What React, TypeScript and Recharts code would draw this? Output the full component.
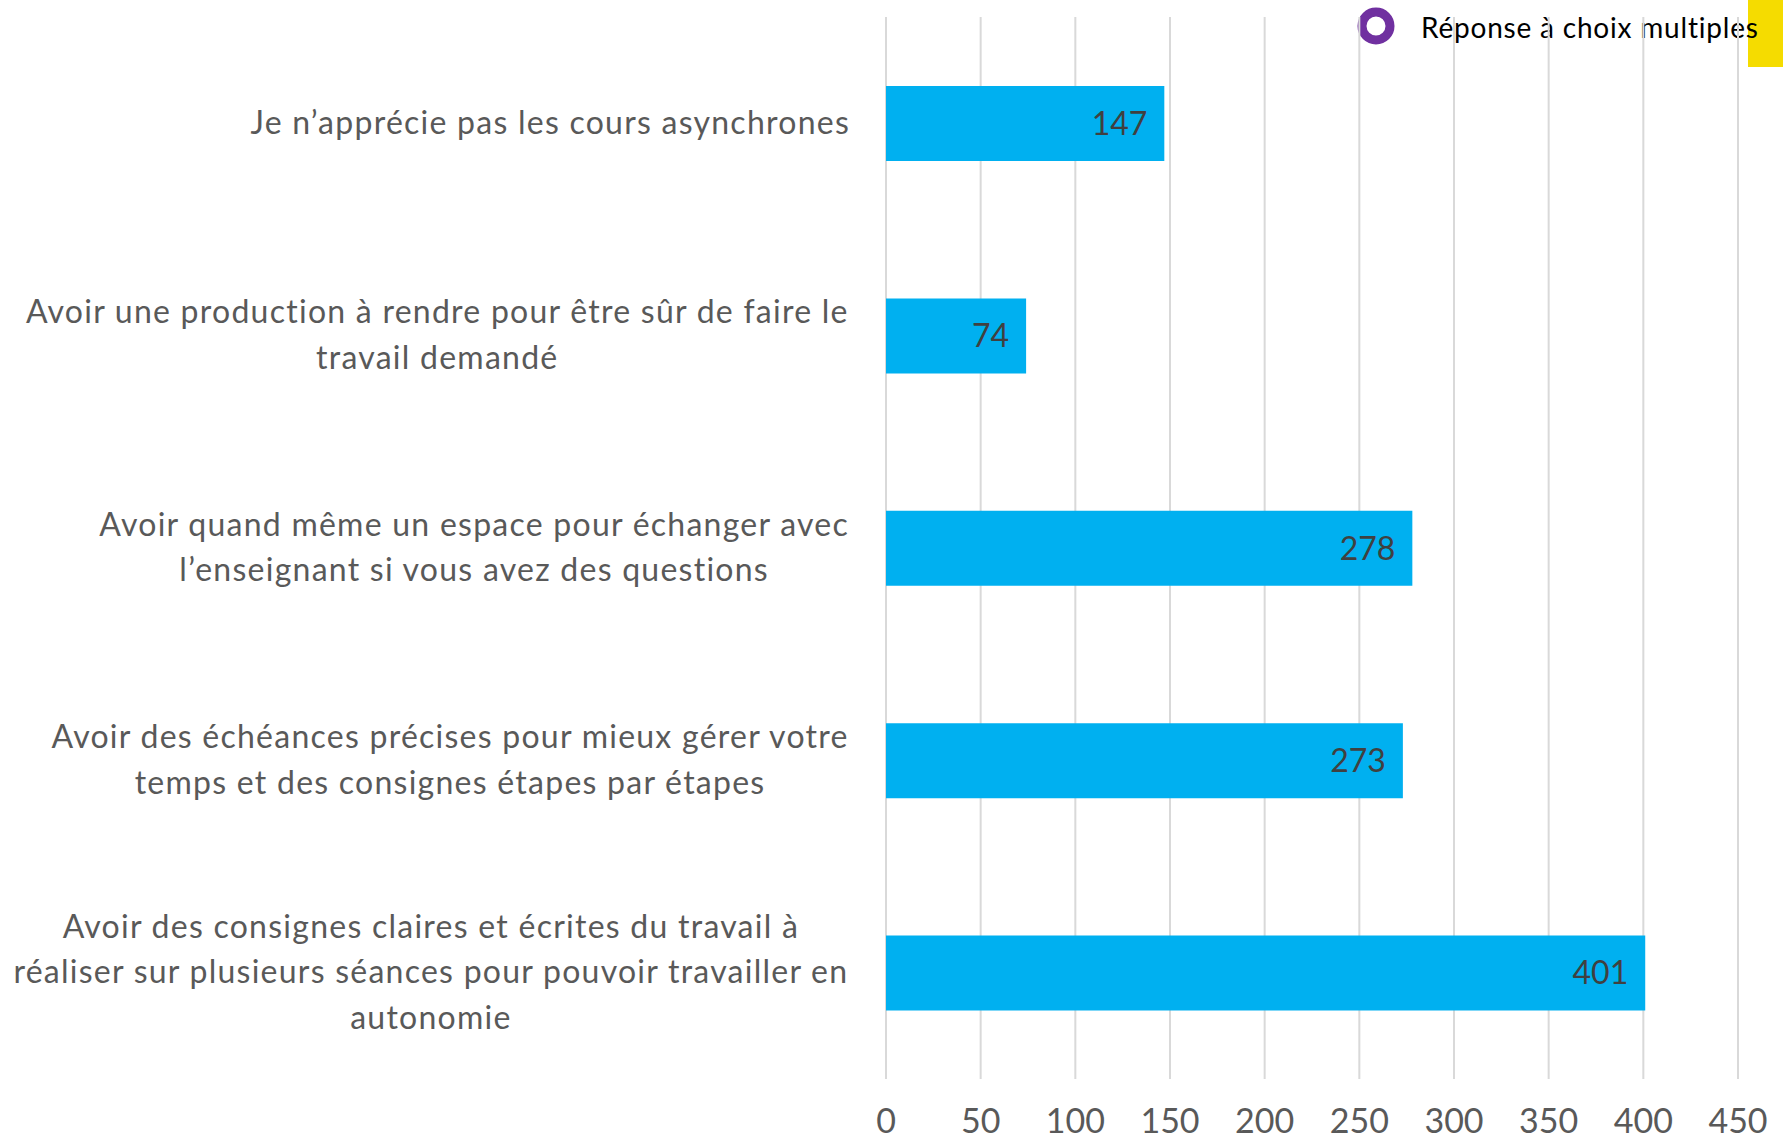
import { Bar, BarChart, CartesianGrid, LabelList, XAxis, YAxis } from "recharts";

const categories = [
  "Je n’apprécie pas les cours asynchrones",
  "Avoir une production à rendre pour être sûr de faire le\ntravail demandé",
  "Avoir quand même un espace pour échanger avec\nl’enseignant si vous avez des questions",
  "Avoir des échéances précises pour mieux gérer votre\ntemps et des consignes étapes par étapes",
  "Avoir des consignes claires et écrites du travail à\nréaliser sur plusieurs séances pour pouvoir travailler en\nautonomie",
];
const values = [147, 74, 278, 273, 401];
const xTicks = [0, 50, 100, 150, 200, 250, 300, 350, 400, 450];
const seriesName = "Réponse à choix multiples";

const data = categories.map((name, i) => ({ name, value: values[i] }));

const FONT = "Lato, 'Open Sans', sans-serif";
const LABEL_SIZE = 32;
const LABEL_SPACING = 1.25;
const LINE_HEIGHT = 45.5;

let ctx: CanvasRenderingContext2D | null = null;
function textWidth(s: string) {
  if (!ctx) ctx = document.createElement("canvas").getContext("2d");
  const base = ctx ? ((ctx.font = `${LABEL_SIZE}px Lato`), ctx.measureText(s).width) : s.length * LABEL_SIZE * 0.5;
  return base + s.length * LABEL_SPACING;
}

function CategoryTick(props: any) {
  const { x, y, payload } = props;
  const lines = String(payload.value).split("\n");
  const maxW = Math.max(...lines.map(textWidth));
  const cx = x - maxW / 2;
  const y0 = y - 2 - ((lines.length - 1) * LINE_HEIGHT) / 2;
  return (
    <g>
      {lines.map((line, i) => (
        <text
          key={i}
          x={cx}
          y={y0 + i * LINE_HEIGHT}
          textAnchor="middle"
          dominantBaseline="central"
          fill="#595959"
          fontSize={LABEL_SIZE}
          fontFamily={FONT}
          letterSpacing={LABEL_SPACING}
        >
          {line}
        </text>
      ))}
    </g>
  );
}

function NumberTick(props: any) {
  const { x, y, payload } = props;
  return (
    <text
      x={x}
      y={y + 38}
      textAnchor="middle"
      dominantBaseline="central"
      fill="#595959"
      fontSize={34}
      fontFamily={FONT}
    >
      {payload.value}
    </text>
  );
}

export default function App() {
  return (
    <div
      style={{
        position: "absolute",
        left: 0,
        top: 0,
        width: 1783,
        height: 1140,
        background: "#fff",
        overflow: "hidden",
        fontFamily: FONT,
      }}
    >
      {/* legend sits under the chart so the gridlines cross it */}
      <div style={{ position: "absolute", left: 1748, top: 0, width: 35, height: 67, background: "#F5DC00" }} />
      <svg style={{ position: "absolute", left: 0, top: 0 }} width={1783} height={70}>
        <circle cx={1376} cy={26} r={14} fill="none" stroke="#7030A0" strokeWidth={9} />
        <text
          x={1421}
          y={27}
          dominantBaseline="central"
          fontSize={28}
          fontFamily={FONT}
          fill="#000"
          letterSpacing={0.8}
        >
          {seriesName}
        </text>
      </svg>
      <div style={{ position: "absolute", left: 0, top: 0 }}>
        <BarChart
          width={1783}
          height={1140}
          data={data}
          layout="vertical"
          margin={{ top: 17, right: 45, bottom: 0, left: 0 }}
        >
          <CartesianGrid horizontal={false} stroke="#D9D9D9" strokeWidth={2} />
          <XAxis
            type="number"
            domain={[0, 450]}
            ticks={xTicks}
            axisLine={false}
            tickLine={false}
            tickSize={0}
            height={61}
            tick={<NumberTick />}
            interval={0}
          />
          <YAxis
            type="category"
            dataKey="name"
            width={886}
            axisLine={false}
            tickLine={false}
            tickSize={0}
            tickMargin={36}
            tick={<CategoryTick />}
            interval={0}
          />
          <Bar dataKey="value" name={seriesName} fill="#00B0F0" barSize={75} isAnimationActive={false}>
            <LabelList
              dataKey="value"
              position="insideRight"
              offset={17}
              fill="#404040"
              fontSize={32}
              fontFamily={FONT}
            />
          </Bar>
        </BarChart>
      </div>
    </div>
  );
}
